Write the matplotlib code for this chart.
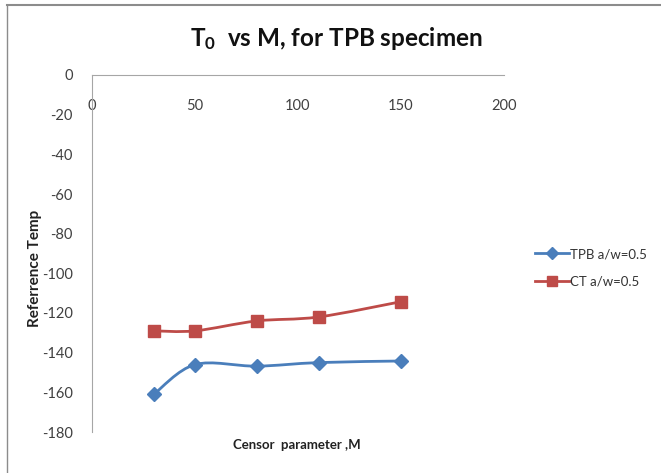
import numpy as np
import matplotlib
matplotlib.use('Agg')
from matplotlib import pyplot as plt
from matplotlib.path import Path
from matplotlib.patches import PathPatch
from matplotlib.lines import Line2D

# data
censor_m = [30, 50, 80, 110, 150]
tpb_temp = [-161, -146, -146.8, -145, -144.2]
ct_temp = [-129, -129, -124, -122, -114.3]
series_names = ['TPB a/w=0.5', 'CT a/w=0.5']

plt.rcParams['font.family'] = ['Lato', 'DejaVu Sans']
plt.rcParams['mathtext.fontset'] = 'custom'
plt.rcParams['mathtext.rm'] = 'Lato'
plt.rcParams['mathtext.bf'] = 'Lato:bold'
plt.rcParams['axes.unicode_minus'] = False


def smooth_path(xs, ys):
    # excel style smoothed line, cubic bezier segments through the points
    pts = np.column_stack([xs, ys]).astype(float)
    n = len(pts)
    verts = [pts[0]]
    codes = [Path.MOVETO]
    for i in range(n - 1):
        p_prev = pts[max(i - 1, 0)]
        p0 = pts[i]
        p1 = pts[i + 1]
        p_next = pts[min(i + 2, n - 1)]
        c1 = p0 + (p1 - p_prev) / 6.0
        c2 = p1 - (p_next - p0) / 6.0
        verts += [c1, c2, p1]
        codes += [Path.CURVE4] * 3
    return Path(verts, codes)


fig = plt.figure(figsize=(6.61, 4.73), dpi=100)
ax = fig.add_axes([92 / 661, 1 - 432 / 473, 412 / 661, 357 / 473])

blue = '#4A7EBB'
red = '#BE4B48'

ax.add_patch(PathPatch(smooth_path(censor_m, tpb_temp), fill=False, edgecolor=blue, lw=2.0))
ax.add_patch(PathPatch(smooth_path(censor_m, ct_temp), fill=False, edgecolor=red, lw=2.0))
ax.plot(censor_m, tpb_temp, ls='none', marker='D', ms=7, color=blue)
ax.plot(censor_m, ct_temp, ls='none', marker='s', ms=8, color=red)

ax.set_xlim(0, 200)
ax.set_ylim(-180, 0)
ax.set_xticks([0, 50, 100, 150, 200])
ax.set_yticks(range(-180, 1, 20))

for s in ['top', 'right']:
    ax.spines[s].set_visible(False)
ax.spines['bottom'].set_position(('data', 0))
ax.spines['bottom'].set_color('#A6A6A6')
ax.spines['left'].set_color('#A6A6A6')
ax.tick_params(axis='both', length=0, labelsize=10.5, labelcolor='#404040')
ax.tick_params(axis='x', pad=17)
ax.tick_params(axis='y', pad=14)

fig.text(35 / 661, 1 - 268 / 473, 'Referrence Temp', rotation=90, ha='center', va='center',
         fontsize=11, fontweight='bold', color='#222222')
fig.text(297 / 661, 1 - 445 / 473, 'Censor  parameter ,M', ha='center', va='center',
         fontsize=9.5, fontweight='bold', color='#222222')
fig.text(336 / 661, 1 - 38 / 473, r'$\mathbf{T_0}$  vs M, for TPB specimen', ha='center',
         va='center', fontsize=17.5, fontweight='bold', color='#111111')

handles = [Line2D([], [], color=blue, lw=2, marker='D', ms=6),
           Line2D([], [], color=red, lw=2, marker='s', ms=7)]
fig.legend(handles, series_names, loc='center left', bbox_to_anchor=(523 / 661, 1 - 268 / 473),
           frameon=False, fontsize=9.5, handlelength=2.6, handletextpad=0.1, labelspacing=1.2,
           labelcolor='#333333')

# outer chart frame (only top and left edges show in the source)
fig.add_artist(Line2D([7 / 661, 1], [1 - 5 / 473, 1 - 5 / 473], color='#8C8C8C', lw=1.5))
fig.add_artist(Line2D([7 / 661, 7 / 661], [0, 1 - 5 / 473], color='#8C8C8C', lw=1))

fig.savefig('out.png', dpi=100)
